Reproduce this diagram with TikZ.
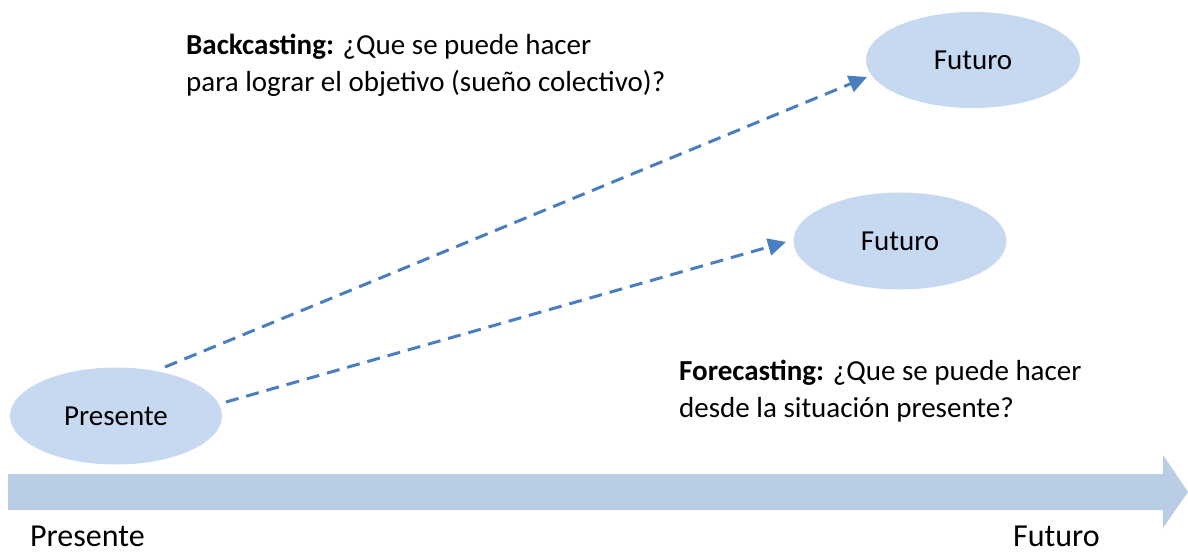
\documentclass[tikz,border=0pt]{standalone}
\usepackage{fontspec}
\setmainfont{Carlito}
\usetikzlibrary{shapes.geometric,arrows.meta}
\definecolor{ellfill}{HTML}{C6D9F1}
\definecolor{barfill}{HTML}{B9CDE5}
\definecolor{dashblue}{HTML}{4A7EC0}
\tikzset{
  oval/.style={ellipse, fill=ellfill, draw=none, inner sep=0pt, font=\fontsize{29}{36}\selectfont},
  dasharrow/.style={draw=dashblue, line width=3pt, dash pattern=on 13pt off 8pt, -{Triangle[length=18pt,width=17pt]}},
  txt/.style={font=\fontsize{29}{36}\selectfont, inner sep=0pt, anchor=base west},
  axislabel/.style={font=\fontsize{32}{38}\selectfont, inner sep=0pt, anchor=base west}
}
\begin{document}
\begin{tikzpicture}[x=1pt,y=-1pt]
\useasboundingbox (0,0) rectangle (1188,556);
% big arrow
\fill[barfill] (8,474) -- (1163,474) -- (1163,455) -- (1188,492) -- (1163,528) -- (1163,510) -- (8,510) -- cycle;
% ellipses
\node[oval, minimum width=212pt, minimum height=97pt] (pres) at (116,416) {Presente};
\node[oval, minimum width=214pt, minimum height=96pt] (fut1) at (973,60) {Futuro};
\node[oval, minimum width=213pt, minimum height=97pt] (fut2) at (900,241) {Futuro};
% arrows
\coordinate (s1) at (165,367);
\coordinate (s2) at (226,402);
\coordinate (e1) at (867,77);
\coordinate (e2) at (786,242);
\draw[dasharrow] (s1) -- (e1);
\draw[dasharrow] (s2) -- (e2);
% texts
\node[txt] (back1) at (186,55) {\textbf{Backcasting:} ¿Que se puede hacer};
\node[txt] (back2) at (186,92) {para lograr el objetivo (sueño colectivo)?};
\node[txt] (fore1) at (679,380) {\textbf{Forecasting:} ¿Que se puede hacer};
\node[txt] (fore2) at (679,417) {desde la situación presente?};
\node[axislabel] (lp) at (30,546) {Presente};
\node[axislabel] (lf) at (1013,546) {Futuro};
\end{tikzpicture}
\end{document}
